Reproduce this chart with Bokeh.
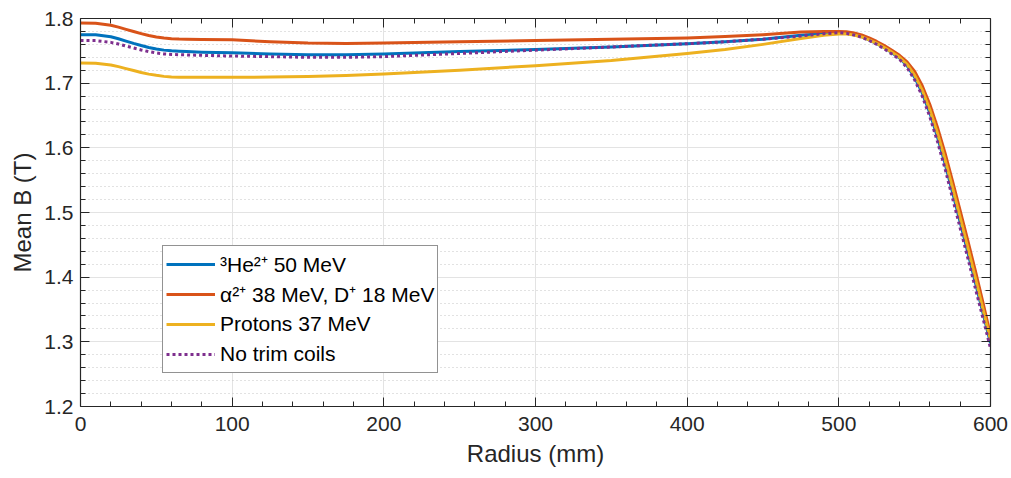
from bokeh.plotting import figure
from bokeh.models import (Range1d, LinearAxis, FixedTicker, PrintfTickFormatter,
                          CustomJSTickFormatter, Legend, LegendItem, ColumnDataSource, Grid)
from bokeh.embed import file_html
from bokeh.resources import INLINE

# ---- data ----
radius = [0, 10, 20, 25, 30, 35, 40, 45, 50, 55, 60, 65, 70, 80, 100, 125, 150, 175,
          200, 250, 300, 350, 400, 425, 450, 475, 490, 500, 505, 510, 515, 520, 525,
          530, 535, 540, 545, 550, 555, 560, 565, 570, 575, 580, 585, 590, 595, 600]

b_he3 = [1.775, 1.7748, 1.7717, 1.7687, 1.7651, 1.7615, 1.7582, 1.7552, 1.7529, 1.7511,
         1.7500, 1.7495, 1.749, 1.748, 1.747, 1.745, 1.744, 1.744,
         1.745, 1.749, 1.752, 1.756, 1.761, 1.764, 1.768, 1.774, 1.777, 1.779, 1.778,
         1.7755, 1.772, 1.767, 1.761, 1.755, 1.747, 1.739, 1.727, 1.709, 1.685, 1.654,
         1.617, 1.576, 1.531, 1.485, 1.439, 1.392, 1.345, 1.298]

b_alpha = [1.793, 1.7925, 1.7896, 1.7866, 1.7832, 1.7798, 1.7766, 1.7736, 1.7714, 1.7697,
           1.7687, 1.7682, 1.768, 1.7677, 1.767, 1.764, 1.762, 1.7615,
           1.762, 1.764, 1.766, 1.768, 1.770, 1.772, 1.775, 1.779, 1.780, 1.780, 1.7795,
           1.7775, 1.7745, 1.770, 1.7645, 1.758, 1.751, 1.743, 1.733, 1.718, 1.696, 1.667,
           1.632, 1.592, 1.548, 1.503, 1.457, 1.410, 1.361, 1.310]

b_protons = [1.731, 1.7308, 1.7282, 1.7256, 1.7225, 1.7195, 1.7166, 1.7140, 1.7121, 1.7105,
             1.7097, 1.7093, 1.709, 1.709, 1.709, 1.7095, 1.7105, 1.712,
             1.714, 1.720, 1.727, 1.735, 1.746, 1.752, 1.760, 1.769, 1.774, 1.776, 1.776,
             1.7745, 1.7715, 1.767, 1.7615, 1.755, 1.748, 1.740, 1.729, 1.712, 1.689, 1.659,
             1.623, 1.582, 1.538, 1.492, 1.446, 1.399, 1.351, 1.303]

b_notrim = [1.766, 1.7658, 1.7631, 1.7605, 1.7574, 1.7543, 1.7514, 1.7488, 1.7468, 1.7452,
            1.7444, 1.744, 1.7437, 1.743, 1.742, 1.741, 1.740, 1.740,
            1.741, 1.746, 1.751, 1.756, 1.761, 1.764, 1.768, 1.773, 1.7765, 1.778, 1.777,
            1.7745, 1.771, 1.766, 1.760, 1.753, 1.745, 1.737, 1.724, 1.705, 1.680, 1.648,
            1.610, 1.568, 1.522, 1.476, 1.430, 1.383, 1.337, 1.290]

series_labels = ["³He²⁺ 50 MeV", "α²⁺ 38 MeV, D⁺ 18 MeV", "Protons 37 MeV", "No trim coils"]

x_ticks = [0, 100, 200, 300, 400, 500, 600]
x_minor = [20, 40, 60, 80, 120, 140, 160, 180, 220, 240, 260, 280, 320, 340, 360, 380,
           420, 440, 460, 480, 520, 540, 560, 580]
y_ticks = [1.2, 1.3, 1.4, 1.5, 1.6, 1.7, 1.8]
y_minor = [1.22, 1.24, 1.26, 1.28, 1.32, 1.34, 1.36, 1.38, 1.42, 1.44, 1.46, 1.48,
           1.52, 1.54, 1.56, 1.58, 1.62, 1.64, 1.66, 1.68, 1.72, 1.74, 1.76, 1.78]

# ---- styles ----
FONT = "Liberation Sans"
TXT = "#262626"
colors = ["#0072BD", "#D95319", "#EDB120", "#7E2F8E"]

p = figure(width=1011, height=478, output_backend="svg", toolbar_location=None,
           x_range=Range1d(0, 600), y_range=Range1d(1.2, 1.8),
           min_border_left=80, min_border_right=21, min_border_top=18,
           min_border_bottom=72, background_fill_color="white",
           border_fill_color="white", x_axis_type=None, y_axis_type=None)
p.outline_line_color = None

def style_axis(ax, ticks, minor):
    ax.ticker = FixedTicker(ticks=ticks, minor_ticks=minor)
    ax.axis_line_color = TXT
    ax.axis_line_width = 1.2
    ax.major_tick_line_color = TXT
    ax.minor_tick_line_color = TXT
    ax.major_tick_in = 9
    ax.major_tick_out = 0
    ax.minor_tick_in = 5
    ax.minor_tick_out = 0
    ax.major_label_text_font = FONT
    ax.major_label_text_font_size = "21px"
    ax.major_label_text_color = TXT
    ax.axis_label_text_font = FONT
    ax.axis_label_text_font_size = "24px"
    ax.axis_label_text_font_style = "normal"
    ax.axis_label_text_color = TXT

xb = LinearAxis(axis_label="Radius (mm)")
style_axis(xb, x_ticks, x_minor)
xb.major_label_standoff = 10
xb.axis_label_standoff = 6
p.add_layout(xb, "below")

yl = LinearAxis(axis_label="Mean B (T)", formatter=PrintfTickFormatter(format="%.1f"))
style_axis(yl, y_ticks, y_minor)
yl.major_label_standoff = 7
yl.axis_label_standoff = 5
p.add_layout(yl, "left")

blank = CustomJSTickFormatter(code="return ''")
xt = LinearAxis(formatter=blank)
style_axis(xt, x_ticks, x_minor)
xt.major_label_standoff = 0
p.add_layout(xt, "above")

yr = LinearAxis(formatter=blank)
style_axis(yr, y_ticks, y_minor)
yr.major_label_standoff = 0
p.add_layout(yr, "right")

# grids
gx = Grid(dimension=0, ticker=FixedTicker(ticks=x_ticks))
gx.grid_line_color = "#e3e3e3"
gx.grid_line_width = 1
gy = Grid(dimension=1, ticker=FixedTicker(ticks=y_ticks, minor_ticks=y_minor))
gy.grid_line_color = "#e3e3e3"
gy.grid_line_width = 1
gy.minor_grid_line_color = "#c4c4c4"
gy.minor_grid_line_dash = "1 3"
gy.minor_grid_line_width = 1
p.add_layout(gx)
p.add_layout(gy)

src = ColumnDataSource(dict(r=radius, he=b_he3, al=b_alpha, pr=b_protons, nt=b_notrim))
r1 = p.line("r", "he", source=src, line_color=colors[0], line_width=3, line_join="round")
r2 = p.line("r", "al", source=src, line_color=colors[1], line_width=3, line_join="round")
r3 = p.line("r", "pr", source=src, line_color=colors[2], line_width=3, line_join="round")
r4 = p.line("r", "nt", source=src, line_color=colors[3], line_width=3, line_dash="3 3")

legend = Legend(items=[LegendItem(label=series_labels[0], renderers=[r1]),
                       LegendItem(label=series_labels[1], renderers=[r2]),
                       LegendItem(label=series_labels[2], renderers=[r3]),
                       LegendItem(label=series_labels[3], renderers=[r4])],
                location=(82, 33))
legend.label_text_font = FONT
legend.label_text_font_size = "21px"
legend.label_text_color = "black"
legend.glyph_width = 49
legend.glyph_height = 30
legend.label_height = 30
legend.label_standoff = 5
legend.spacing = 0
legend.padding = 3
legend.margin = 0
legend.border_line_color = TXT
legend.border_line_width = 1
legend.background_fill_alpha = 1
p.add_layout(legend, "center")

open("out.html", "w").write(file_html(p, INLINE))
